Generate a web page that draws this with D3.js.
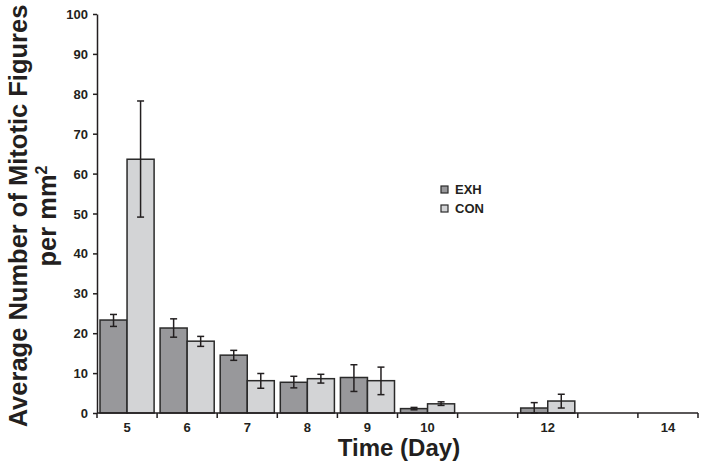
<!DOCTYPE html>
<html>
<head>
<meta charset="utf-8">
<script src="https://cdn.jsdelivr.net/npm/d3@7"></script>
<style>
  body { margin: 0; background: #fff; }
  svg { font-family: "Liberation Sans", Arial, sans-serif; }
  .axis path, .axis line { stroke: #231f20; stroke-width: 1.5px; }
  .axis text { font-size: 13px; font-weight: bold; fill: #231f20; }
</style>
</head>
<body>
<div id="chart"></div>
<script>
const days = ['5', '6', '7', '8', '9', '10', '11', '12', '13', '14'];
const dayLabels = ['5', '6', '7', '8', '9', '10', '', '12', '', '14'];
const seriesNames = ['EXH', 'CON'];
const seriesColors = ['#98989b', '#d3d4d6'];

// means and error bar ends, null = no bar
const exhMean = [23.3, 21.3, 14.5, 7.7, 8.9, 1.1, null, 1.25, null, null];
const exhLow = [21.7, 19.0, 13.2, 6.3, 5.4, 0.8, null, 0, null, null];
const exhHigh = [24.7, 23.6, 15.7, 9.2, 12.1, 1.4, null, 2.6, null, null];
const conMean = [63.6, 18.0, 8.1, 8.6, 8.1, 2.3, null, 3.0, null, null];
const conLow = [49.1, 16.7, 6.2, 7.5, 4.6, 1.9, null, 1.25, null, null];
const conHigh = [78.2, 19.2, 9.9, 9.7, 11.5, 2.8, null, 4.7, null, null];

const yTicks = [0, 10, 20, 30, 40, 50, 60, 70, 80, 90, 100];

const width = 708, height = 471;
const margin = { top: 14, right: 10, bottom: 58, left: 97 };

const svg = d3.select('#chart').append('svg')
  .attr('width', width)
  .attr('height', height);

const x = d3.scaleBand()
  .domain(days)
  .range([margin.left, 698])
  .padding(0);

const xInner = d3.scaleBand()
  .domain(seriesNames)
  .range([3, x.bandwidth() - 3])
  .padding(0);

const y = d3.scaleLinear()
  .domain([0, 100])
  .range([height - margin.bottom, margin.top]);

const rows = [];
days.forEach((d, i) => {
  rows.push({ day: d, s: 'EXH', mean: exhMean[i], lo: exhLow[i], hi: exhHigh[i], c: seriesColors[0] });
  rows.push({ day: d, s: 'CON', mean: conMean[i], lo: conLow[i], hi: conHigh[i], c: seriesColors[1] });
});
const bars = rows.filter((r) => r.mean !== null);

// bars
svg.append('g')
  .selectAll('rect')
  .data(bars)
  .join('rect')
  .attr('x', (d) => x(d.day) + xInner(d.s))
  .attr('y', (d) => y(d.mean))
  .attr('width', xInner.bandwidth())
  .attr('height', (d) => y(0) - y(d.mean))
  .attr('fill', (d) => d.c)
  .attr('stroke', '#2a2a2a')
  .attr('stroke-width', 1.5);

// error bars
const err = svg.append('g')
  .attr('stroke', '#231f20')
  .attr('stroke-width', 1.5)
  .selectAll('g')
  .data(bars)
  .join('g')
  .attr('transform', (d) => `translate(${x(d.day) + xInner(d.s) + xInner.bandwidth() / 2},0)`);

err.append('line').attr('y1', (d) => y(d.lo)).attr('y2', (d) => y(d.hi));
err.append('line').attr('x1', -3.5).attr('x2', 3.5).attr('y1', (d) => y(d.hi)).attr('y2', (d) => y(d.hi));
err.append('line').attr('x1', -3.5).attr('x2', 3.5).attr('y1', (d) => y(d.lo)).attr('y2', (d) => y(d.lo));

// y axis
svg.append('g')
  .attr('class', 'axis')
  .attr('transform', `translate(${margin.left},0)`)
  .call(d3.axisLeft(y).tickValues(yTicks).tickSize(4).tickSizeOuter(0).tickPadding(5))
  .call((g) => g.selectAll('.tick text').attr('dy', '0.35em'));

// x axis: ticks at the category boundaries
const xAxis = svg.append('g')
  .attr('class', 'axis')
  .attr('transform', `translate(0,${y(0)})`);

xAxis.append('line')
  .attr('x1', margin.left)
  .attr('x2', x(days[days.length - 1]) + x.bandwidth());

xAxis.selectAll('.bound')
  .data(days.concat(['end']))
  .join('line')
  .attr('class', 'bound')
  .attr('x1', (d, i) => (i < days.length ? x(d) : x(days[days.length - 1]) + x.bandwidth()))
  .attr('x2', (d, i) => (i < days.length ? x(d) : x(days[days.length - 1]) + x.bandwidth()))
  .attr('y1', 0)
  .attr('y2', 5);

xAxis.selectAll('text')
  .data(days)
  .join('text')
  .attr('x', (d) => x(d) + x.bandwidth() / 2)
  .attr('y', 19)
  .attr('text-anchor', 'middle')
  .text((d, i) => dayLabels[i]);

// axis titles
svg.append('text')
  .attr('x', 399)
  .attr('y', 456)
  .attr('text-anchor', 'middle')
  .attr('font-size', 24)
  .attr('font-weight', 'bold')
  .attr('fill', '#231f20')
  .text('Time (Day)');

const yTitle = svg.append('text')
  .attr('transform', 'translate(27,216) rotate(-90)')
  .attr('text-anchor', 'middle')
  .attr('font-size', 25.5)
  .attr('font-weight', 'bold')
  .attr('fill', '#231f20');
yTitle.append('tspan').attr('x', 0).attr('y', 0).text('Average Number of Mitotic Figures');
yTitle.append('tspan').attr('x', 0).attr('y', 29).text('per mm');
yTitle.append('tspan').attr('dy', -9).attr('font-size', 16).text('2');

// legend
const legend = svg.append('g')
  .attr('transform', 'translate(441,186)')
  .selectAll('g')
  .data(seriesNames)
  .join('g')
  .attr('transform', (d, i) => `translate(0,${i * 19})`);

legend.append('rect')
  .attr('x', 0)
  .attr('y', 0)
  .attr('width', 7)
  .attr('height', 7)
  .attr('fill', (d, i) => seriesColors[i])
  .attr('stroke', '#2a2a2a')
  .attr('stroke-width', 1.2);

legend.append('text')
  .attr('x', 14)
  .attr('y', 8)
  .attr('font-size', 13)
  .attr('font-weight', 'bold')
  .attr('fill', '#231f20')
  .text((d) => d);
</script>
</body>
</html>
